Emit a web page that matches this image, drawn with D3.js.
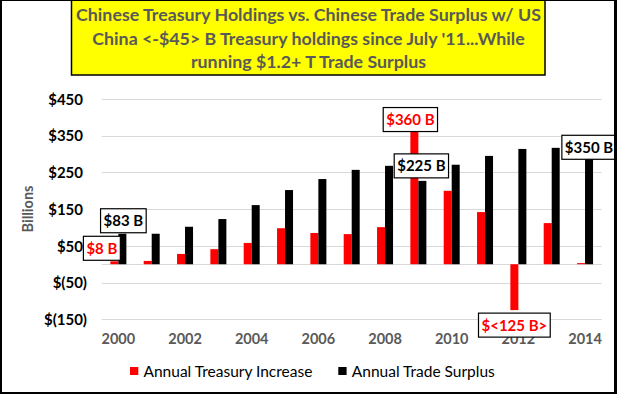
<!DOCTYPE html>
<html>
<head>
<meta charset="utf-8">
<title>Chinese Treasury Holdings vs Trade Surplus</title>
<script src="https://d3js.org/d3.v7.min.js"></script>
<style>
  body { margin: 0; background: #fff; }
  svg { display: block; }
  text { font-family: Lato, "Open Sans", sans-serif; }
  .grid line { stroke: #d9d9d9; stroke-width: 1; }
  .yAxis text { font-weight: bold; fill: #000; font-size: 15px; }
  .xAxis text { font-weight: bold; fill: #595959; font-size: 14.5px; }
</style>
</head>
<body>
<svg width="617" height="394"></svg>
<script>
// data
var years = [2000, 2001, 2002, 2003, 2004, 2005, 2006, 2007, 2008, 2009, 2010, 2011, 2012, 2013, 2014];
var treasuryIncrease = [8, 9, 28, 41, 58, 98, 85, 82, 101, 360, 200, 142, -125, 112, 3];
var tradeSurplus = [83, 83, 102, 123, 161, 202, 232, 257, 268, 227, 271, 295, 314, 317, 343];
var yTicks = [-150, -50, 50, 150, 250, 350, 450];
var xTickYears = [2000, 2002, 2004, 2006, 2008, 2010, 2012, 2014];
var seriesNames = ["Annual Treasury Increase", "Annual Trade Surplus"];
var seriesColors = ["#ff0000", "#000000"];
var titleLines = [
  "Chinese Treasury Holdings vs. Chinese Trade Surplus w/ US",
  "China <-$45> B Treasury holdings since July '11...While",
  "running $1.2+ T Trade Surplus"
];
// callouts: text, year, series index, offset of box centre from the bar end
var callouts = [
  {text: "$8 B", year: 2000, s: 0, dx: -12.5, dy: -13},
  {text: "$83 B", year: 2000, s: 1, dx: 1, dy: -13},
  {text: "$360 B", year: 2009, s: 0, dx: -4, dy: -12.5},
  {text: "$225 B", year: 2009, s: 1, dx: -1, dy: -15},
  {text: "$350 B", year: 2014, s: 1, dx: 0, dy: 9},
  {text: "$<125 B>", year: 2012, s: 0, dx: 0, dy: 15}
];

var svg = d3.select("svg");

var x = d3.scaleBand().domain(years).range([101.7, 601.7]);
var y = d3.scaleLinear().domain([-150, 450]).range([319.3, 99]);
var barW = 8;
var values = [treasuryIncrease, tradeSurplus];

// gridlines
svg.append("g").attr("class", "grid")
  .selectAll("line")
  .data(yTicks.concat([0]))
  .enter().append("line")
  .attr("x1", x.range()[0]).attr("x2", x.range()[1])
  .attr("y1", d => Math.round(y(d)) + 0.5).attr("y2", d => Math.round(y(d)) + 0.5);

// y axis labels
var yAxis = d3.axisLeft(y).tickValues(yTicks).tickSize(0).tickPadding(0)
  .tickFormat(d => d < 0 ? "$(" + Math.abs(d) + ")" : "$" + d);
var yG = svg.append("g").attr("class", "yAxis")
  .attr("transform", "translate(87,0)")
  .call(yAxis);
yG.select(".domain").remove();
yG.selectAll("text").attr("dx", d => d < 0 ? 0 : -4).attr("dy", "0.35em");

// x axis labels
var xAxis = d3.axisBottom(x).tickValues(xTickYears).tickSize(0).tickPadding(0);
var xG = svg.append("g").attr("class", "xAxis")
  .attr("transform", "translate(0,333.5)")
  .call(xAxis);
xG.select(".domain").remove();
xG.selectAll("text").attr("dy", "0.7em");

// y title
svg.append("text")
  .attr("transform", "translate(33,209) rotate(-90)")
  .attr("text-anchor", "middle")
  .attr("fill", "#595959").attr("font-weight", "bold").attr("font-size", "14.5px")
  .text("Billions");

// bars
values.forEach(function(vals, s) {
  svg.append("g").selectAll("rect")
    .data(vals)
    .enter().append("rect")
    .attr("x", (d, i) => x(years[i]) + x.bandwidth() / 2 - barW + s * barW)
    .attr("width", barW)
    .attr("y", d => Math.min(y(d), y(0)))
    .attr("height", d => Math.abs(y(d) - y(0)))
    .attr("fill", seriesColors[s]);
});

// callouts
callouts.forEach(function(c) {
  var i = years.indexOf(c.year);
  var cx = x(c.year) + x.bandwidth() / 2 - barW / 2 + c.s * barW + c.dx;
  var cy = y(values[c.s][i]) + c.dy;
  var g = svg.append("g");
  var box = g.append("rect").attr("fill", "#fff").attr("stroke", "#000").attr("stroke-width", 1.2);
  var t = g.append("text")
    .attr("x", cx).attr("y", cy).attr("dy", "0.36em")
    .attr("text-anchor", "middle")
    .attr("font-weight", "bold").attr("font-size", "15px")
    .attr("fill", seriesColors[c.s])
    .text(c.text);
  var w = t.node().getComputedTextLength() + 6;
  box.attr("x", cx - w / 2).attr("y", cy - 12).attr("width", w).attr("height", 24);
});

// legend
var leg = svg.append("g").attr("transform", "translate(0,371.5)");
var legX = [130, 338.3];
seriesNames.forEach(function(n, s) {
  leg.append("rect").attr("x", legX[s]).attr("y", -4.5).attr("width", 8.3).attr("height", 8)
    .attr("fill", seriesColors[s]);
  leg.append("text").attr("x", legX[s] + 13.5).attr("dy", "0.35em")
    .attr("font-size", "15.5px").attr("fill", "#000")
    .text(n);
});

// title box
svg.append("rect")
  .attr("x", 71.5).attr("y", -1).attr("width", 473.5).attr("height", 76)
  .attr("fill", "#ffff00").attr("stroke", "#000").attr("stroke-width", 1.5);
svg.append("g").selectAll("text")
  .data(titleLines)
  .enter().append("text")
  .attr("x", 308.5).attr("y", (d, i) => 21 + i * 23.5)
  .attr("text-anchor", "middle")
  .attr("font-weight", "bold").attr("font-size", "17.8px").attr("fill", "#595959")
  .text(d => d);

// outer border
svg.append("rect")
  .attr("x", 0).attr("y", -1).attr("width", 616).attr("height", 395)
  .attr("fill", "none").attr("stroke", "#000").attr("stroke-width", 4);
</script>
</body>
</html>
